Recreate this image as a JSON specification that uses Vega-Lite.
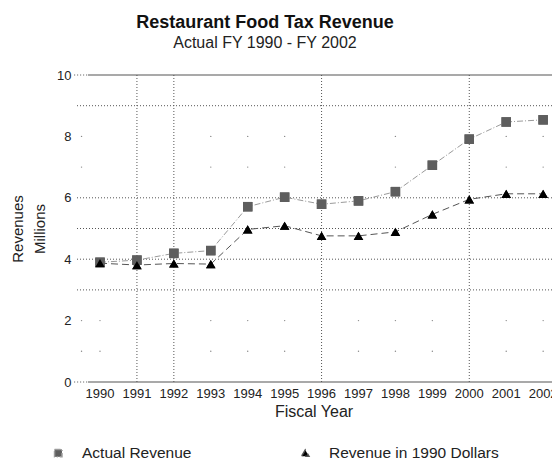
{
  "$schema": "https://vega.github.io/schema/vega-lite/v6.json",
  "width": 477,
  "height": 307,
  "autosize": "none",
  "padding": {"left": 75, "top": 75, "right": 0, "bottom": 78},
  "background": "white",
  "config": {
    "view": {"stroke": null},
    "font": "Liberation Sans",
    "axisX": {"labels": false, "domain": false, "ticks": false, "grid": false, "titleFontSize": 16, "titleFontWeight": "normal", "titleColor": "#222", "titlePadding": 21},
    "axisY": {"domain": false, "ticks": false, "grid": false, "labelFontSize": 13, "labelColor": "#222", "labelPadding": 4,
      "titleFontSize": 15, "titleFontWeight": "normal", "titleColor": "#222", "titleLineHeight": 22, "titlePadding": 9},
    "legend": {"labelFontSize": 15.5, "labelColor": "#222", "labelOffset": 16, "symbolSize": 55, "symbolOpacity": 1, "labelLimit": 300}
  },
  "title": {
    "text": "Restaurant Food Tax Revenue",
    "subtitle": "Actual FY 1990 - FY 2002",
    "anchor": "start",
    "frame": "group",
    "align": "center",
    "dx": 190,
    "offset": 18,
    "fontSize": 18,
    "fontWeight": "bold",
    "color": "#111",
    "subtitleFontSize": 16,
    "subtitleColor": "#222",
    "subtitlePadding": 3
  },
  "datasets": {
    "rev": [
      {"year": 1990, "series": "Actual Revenue", "value": 3.9},
      {"year": 1991, "series": "Actual Revenue", "value": 3.97},
      {"year": 1992, "series": "Actual Revenue", "value": 4.19},
      {"year": 1993, "series": "Actual Revenue", "value": 4.28},
      {"year": 1994, "series": "Actual Revenue", "value": 5.71},
      {"year": 1995, "series": "Actual Revenue", "value": 6.02},
      {"year": 1996, "series": "Actual Revenue", "value": 5.79},
      {"year": 1997, "series": "Actual Revenue", "value": 5.9},
      {"year": 1998, "series": "Actual Revenue", "value": 6.2},
      {"year": 1999, "series": "Actual Revenue", "value": 7.06},
      {"year": 2000, "series": "Actual Revenue", "value": 7.91},
      {"year": 2001, "series": "Actual Revenue", "value": 8.47},
      {"year": 2002, "series": "Actual Revenue", "value": 8.54},
      {"year": 1990, "series": "Revenue in 1990 Dollars", "value": 3.87},
      {"year": 1991, "series": "Revenue in 1990 Dollars", "value": 3.81},
      {"year": 1992, "series": "Revenue in 1990 Dollars", "value": 3.86},
      {"year": 1993, "series": "Revenue in 1990 Dollars", "value": 3.84},
      {"year": 1994, "series": "Revenue in 1990 Dollars", "value": 4.97},
      {"year": 1995, "series": "Revenue in 1990 Dollars", "value": 5.09},
      {"year": 1996, "series": "Revenue in 1990 Dollars", "value": 4.76},
      {"year": 1997, "series": "Revenue in 1990 Dollars", "value": 4.76},
      {"year": 1998, "series": "Revenue in 1990 Dollars", "value": 4.89},
      {"year": 1999, "series": "Revenue in 1990 Dollars", "value": 5.46},
      {"year": 2000, "series": "Revenue in 1990 Dollars", "value": 5.95},
      {"year": 2001, "series": "Revenue in 1990 Dollars", "value": 6.13},
      {"year": 2002, "series": "Revenue in 1990 Dollars", "value": 6.13}
    ],
    "xlabels": [
      {"year": 1990, "pos": -0.4}, {"year": 1991, "pos": -0.4}, {"year": 1992, "pos": -0.4},
      {"year": 1993, "pos": -0.4}, {"year": 1994, "pos": -0.4}, {"year": 1995, "pos": -0.4},
      {"year": 1996, "pos": -0.4}, {"year": 1997, "pos": -0.4}, {"year": 1998, "pos": -0.4},
      {"year": 1999, "pos": -0.4}, {"year": 2000, "pos": -0.4}, {"year": 2001, "pos": -0.4},
      {"year": 2002, "pos": -0.4}
    ],
    "hgrid": [{"y": 3}, {"y": 4}, {"y": 5}, {"y": 6}, {"y": 9}],
    "vgrid": [{"x": 1991}, {"x": 1992}, {"x": 1996}, {"x": 2000}],
    "frame": [
      {"y": 0, "x": 1989.675, "x2": 2002.24},
      {"y": 10, "x": 1989.675, "x2": 2002.24}
    ],
    "stubs": [
      {"y": 0, "x": 1989.3, "x2": 1989.675},
      {"y": 10, "x": 1989.3, "x2": 1989.675}
    ],
    "dots": [
      {"x": 1989.5, "y": 1}, {"x": 1989.5, "y": 2}, {"x": 1989.5, "y": 7}, {"x": 1989.5, "y": 8},
      {"x": 1990, "y": 1}, {"x": 1990, "y": 2},
      {"x": 1993, "y": 1}, {"x": 1993, "y": 2}, {"x": 1993, "y": 7}, {"x": 1993, "y": 8},
      {"x": 1994, "y": 1}, {"x": 1994, "y": 2}, {"x": 1994, "y": 7}, {"x": 1994, "y": 8},
      {"x": 1995, "y": 1}, {"x": 1995, "y": 2}, {"x": 1995, "y": 7}, {"x": 1995, "y": 8},
      {"x": 1997, "y": 1}, {"x": 1997, "y": 2},
      {"x": 1998, "y": 1}, {"x": 1998, "y": 2}, {"x": 1998, "y": 7}, {"x": 1998, "y": 8},
      {"x": 1999, "y": 1}, {"x": 1999, "y": 2},
      {"x": 2001, "y": 1}, {"x": 2001, "y": 2}, {"x": 2001, "y": 7}, {"x": 2001, "y": 8},
      {"x": 2002, "y": 1}, {"x": 2002, "y": 2}, {"x": 2002, "y": 7}, {"x": 2002, "y": 8}
    ]
  },
  "layer": [
    {
      "data": {"name": "rev"},
      "mark": {"type": "point", "filled": true, "opacity": 1, "size": 90},
      "encoding": {
        "x": {"field": "year", "type": "quantitative",
          "scale": {"domain": [1989.323, 2002.24], "nice": false, "zero": false},
          "axis": {"title": "Fiscal Year", "labels": false}},
        "y": {"field": "value", "type": "quantitative", "scale": {"domain": [0, 10], "nice": false, "zero": false},
          "axis": {"values": [0, 2, 4, 6, 8, 10], "title": ["Revenues", "Millions"]}},
        "color": {"field": "series", "type": "nominal",
          "scale": {"domain": ["Actual Revenue", "Revenue in 1990 Dollars"], "range": ["#5e5e5e", "#000000"]},
          "legend": {"title": null, "orient": "none", "legendX": -24.5, "legendY": 370, "direction": "horizontal", "columnPadding": 106}},
        "shape": {"field": "series", "type": "nominal",
          "scale": {"domain": ["Actual Revenue", "Revenue in 1990 Dollars"], "range": ["square", "triangle-up"]}}
      }
    },
    {
      "data": {"name": "vgrid"},
      "mark": {"type": "rule", "stroke": "#555", "strokeWidth": 1, "strokeDash": [1, 2]},
      "encoding": {
        "x": {"field": "x", "type": "quantitative"}
      }
    },
    {
      "data": {"name": "hgrid"},
      "mark": {"type": "rule", "stroke": "#555", "strokeWidth": 1, "strokeDash": [1, 2]},
      "encoding": {
        "y": {"field": "y", "type": "quantitative"}
      }
    },
    {
      "data": {"name": "stubs"},
      "mark": {"type": "rule", "stroke": "#555", "strokeWidth": 1, "strokeDash": [1, 2]},
      "encoding": {
        "x": {"field": "x", "type": "quantitative"},
        "x2": {"field": "x2"},
        "y": {"field": "y", "type": "quantitative"}
      }
    },
    {
      "data": {"name": "frame"},
      "mark": {"type": "rule", "stroke": "#555", "strokeWidth": 1.2},
      "encoding": {
        "x": {"field": "x", "type": "quantitative"},
        "x2": {"field": "x2"},
        "y": {"field": "y", "type": "quantitative"}
      }
    },
    {
      "data": {"name": "dots"},
      "mark": {"type": "point", "filled": true, "size": 2, "color": "#888", "opacity": 1},
      "encoding": {
        "x": {"field": "x", "type": "quantitative"},
        "y": {"field": "y", "type": "quantitative"}
      }
    },
    {
      "data": {"name": "xlabels"},
      "mark": {"type": "text", "fontSize": 13, "color": "#222", "baseline": "middle", "align": "center"},
      "encoding": {
        "x": {"field": "year", "type": "quantitative"},
        "y": {"field": "pos", "type": "quantitative"},
        "text": {"field": "year", "type": "quantitative", "format": "d"}
      }
    },
    {
      "data": {"name": "rev"},
      "mark": {"type": "line", "strokeWidth": 1},
      "encoding": {
        "x": {"field": "year", "type": "quantitative"},
        "y": {"field": "value", "type": "quantitative"},
        "detail": {"field": "series", "type": "nominal"},
        "stroke": {"field": "series", "type": "nominal", "legend": null,
          "scale": {"domain": ["Actual Revenue", "Revenue in 1990 Dollars"], "range": ["#9a9a9a", "#555555"]}},
        "strokeDash": {"field": "series", "type": "nominal", "legend": null,
          "scale": {"domain": ["Actual Revenue", "Revenue in 1990 Dollars"], "range": [[6, 2, 1, 2], [7, 4]]}}
      }
    },
    {
      "data": {"name": "rev"},
      "mark": {"type": "point", "filled": true, "opacity": 1, "size": 90},
      "encoding": {
        "x": {"field": "year", "type": "quantitative"},
        "y": {"field": "value", "type": "quantitative"},
        "color": {"field": "series", "type": "nominal"},
        "shape": {"field": "series", "type": "nominal"}
      }
    }
  ]
}
